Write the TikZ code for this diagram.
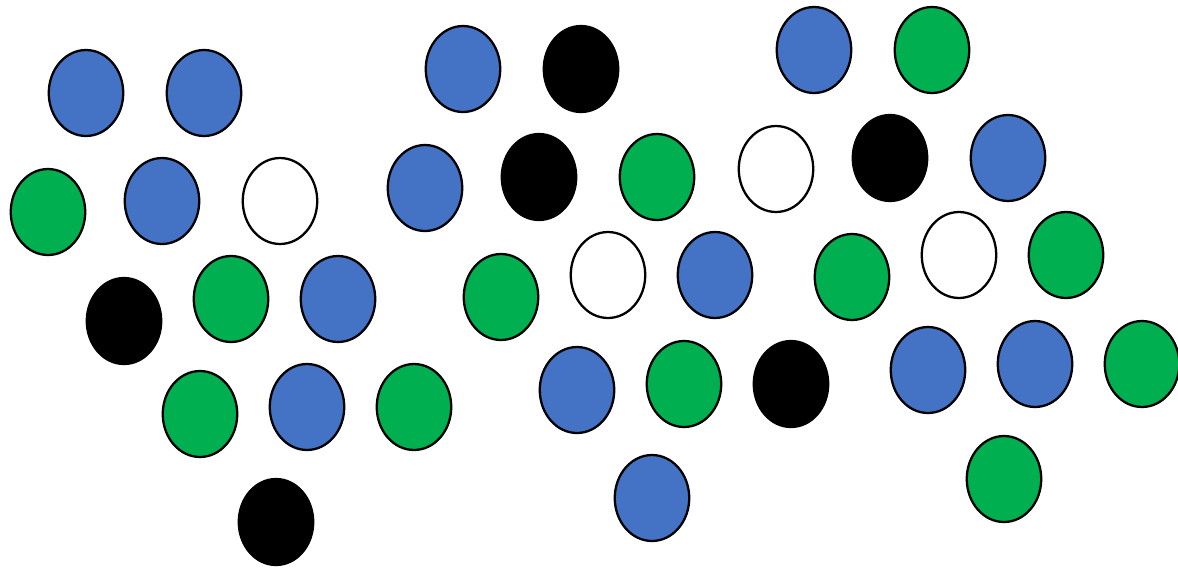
\documentclass[tikz,border=0pt]{standalone}
\usepackage{tikz}
\usetikzlibrary{shapes.geometric}
\definecolor{dotblue}{RGB}{68,114,196}
\definecolor{dotgreen}{RGB}{0,176,80}
\tikzset{
  dot/.style={ellipse,draw=black,line width=1.3pt,inner sep=0pt,
    minimum width=1.49cm,minimum height=1.72cm},
}
\begin{document}
\begin{tikzpicture}[x=0.02cm,y=-0.02cm]
  \useasboundingbox (0,0) rectangle (1178,569);
  % left group
  \foreach \px/\py/\c/\n in {86/93/dotblue/a1, 204/93/dotblue/a2,
      48/212/dotgreen/a3, 162/201/dotblue/a4, 280/201/white/a5,
      124/321/black/a6, 231/299/dotgreen/a7, 338/299/dotblue/a8,
      200/414/dotgreen/a9, 307/407/dotblue/a10, 414/407/dotgreen/a11,
      276/522/black/a12}
    \node[dot,fill=\c] (\n) at (\px,\py) {};
  % middle group
  \foreach \px/\py/\c/\n in {463/69/dotblue/b1, 581/69/black/b2,
      425/188/dotblue/b3, 539/177/black/b4, 657/177/dotgreen/b5,
      501/297/dotgreen/b6, 608/275/white/b7, 715/275/dotblue/b8,
      577/390/dotblue/b9, 684/384/dotgreen/b10, 791/384/black/b11,
      652/498/dotblue/b12}
    \node[dot,fill=\c] (\n) at (\px,\py) {};
  % right group
  \foreach \px/\py/\c/\n in {814/50/dotblue/c1, 932/50/dotgreen/c2,
      776/169/white/c3, 890/158/black/c4, 1008/158/dotblue/c5,
      852/277/dotgreen/c6, 959/255/white/c7, 1066/255/dotgreen/c8,
      928/370/dotblue/c9, 1035/364/dotblue/c10, 1142/364/dotgreen/c11,
      1004/479/dotgreen/c12}
    \node[dot,fill=\c] (\n) at (\px,\py) {};
\end{tikzpicture}
\end{document}
